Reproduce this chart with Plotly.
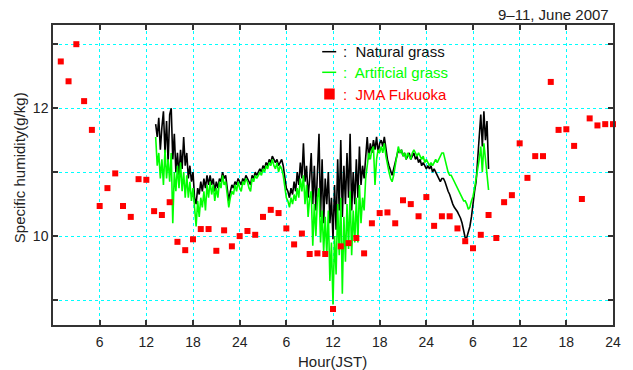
import numpy as np
import plotly.graph_objects as go

# ---- data ----
# JMA Fukuoka hourly specific humidity (g/kg), hours 1..72 from 0 JST 9 June
jma_hours = list(range(1, 73))
jma_values = [
    12.73, 12.42, 13.00, 12.11, 11.66, 10.47, 10.75, 10.98, 10.47, 10.30,
    10.89, 10.88, 10.39, 10.33, 10.53, 9.91, 9.78, 9.95, 10.11, 10.11,
    9.77, 10.09, 9.84, 10.00, 10.08, 10.02, 10.30, 10.41, 10.36, 10.12,
    9.87, 10.04, 9.72, 9.73, 9.72, 8.86, 9.84, 9.89, 9.97, 9.73,
    10.20, 10.36, 10.37, 10.20, 10.56, 10.50, 10.31, 10.61, 10.16, 10.31,
    10.31, 10.12, 9.92, 9.81, 10.02, 10.33, 9.97, 10.53, 10.64, 11.45,
    10.91, 11.25, 11.25, 12.41, 11.66, 11.67, 11.41, 10.58, 11.84, 11.73,
    11.75, 11.75,
]

# Tower records, sampled every 0.2 h from 13.2 h to 56.0 h
rec_start, rec_step, rec_count = 13.2, 0.2, 215
rec_hours = np.round(rec_start + rec_step * np.arange(rec_count), 2)

natural_grass = [
    11.75, 11.55, 11.85, 11.35, 11.70,  11.95, 11.30, 11.80, 11.15, 11.90,
    12.00, 11.20, 11.60, 11.00, 11.30,  10.95, 11.35, 11.05, 11.55, 11.10,
    11.30, 10.90, 11.10, 10.85, 11.00,  10.60, 10.50, 10.75, 10.65, 10.85,
    10.70, 10.90, 10.75, 10.95, 10.80,  10.95, 10.80, 10.90, 10.70, 10.85,
    10.75, 10.90, 10.85, 11.00, 10.90,  10.95, 10.75, 10.55, 10.70, 10.80,
    10.75, 10.85, 10.80, 10.90, 10.85,  10.80, 10.90, 10.85, 10.95, 10.90,
    10.85, 10.80, 10.95, 10.90, 11.00,  10.95, 11.00, 11.05, 11.00, 11.10,
    11.05, 11.15, 11.10, 11.20, 11.15,  11.25, 11.20, 11.15, 11.20, 11.10,
    11.15, 11.20, 11.10, 10.95, 10.75,  10.70, 10.60, 10.75, 10.65, 10.85,
    10.70, 11.00, 10.80, 11.15, 10.90,  11.45, 10.85, 11.10, 10.60, 10.90,
    11.30, 10.50, 11.10, 10.40, 11.00,  11.60, 10.30, 11.20, 10.20, 10.90,
    10.50, 11.00, 10.20, 10.60, 9.95,   10.80, 10.10, 11.20, 10.40, 11.50,
    10.30, 11.10, 10.50, 11.30, 10.60,  11.60, 10.40, 11.00, 10.50, 11.20,
    10.60, 11.40, 10.80, 11.10, 10.90,  11.30, 11.55, 11.20, 11.45, 11.30,
    11.50, 11.35, 11.55, 11.30, 11.45,  11.50, 11.40, 11.55, 11.35, 11.20,
    11.10, 11.00, 10.95, 11.05, 11.15,  11.25, 11.35, 11.30, 11.35, 11.25,
    11.30, 11.20, 11.25, 11.30, 11.20,  11.25, 11.30, 11.20, 11.25, 11.15,
    11.20, 11.10, 11.15, 11.10, 11.05,  11.10, 11.05, 11.10, 11.00, 11.05,
    11.00, 10.95, 10.90, 10.85, 10.90,  10.90, 10.85, 10.75, 10.70, 10.65,
    10.57, 10.50, 10.45, 10.42, 10.38,  10.33, 10.28, 10.20, 10.10, 9.97,
    9.98, 10.05, 10.15, 10.30, 10.52,   10.70, 10.85, 11.20, 11.60, 11.90,
    11.40, 11.95, 11.50, 11.80, 11.05,
]

artificial_grass = [
    11.55, 11.10, 11.30, 10.90, 11.20,  10.80, 11.35, 10.90, 11.20, 10.85,
    11.30, 10.20, 11.00, 10.70, 11.10,  10.75, 11.15, 10.70, 11.00, 10.60,
    10.95, 10.60, 10.85, 10.55, 10.75,  10.40, 10.15, 10.55, 10.30, 10.60,
    10.45, 10.70, 10.40, 10.80, 10.60,  10.85, 10.65, 10.80, 10.55, 10.75,
    10.60, 10.85, 10.75, 10.95, 10.80,  10.85, 10.60, 10.45, 10.60, 10.70,
    10.65, 10.80, 10.70, 10.85, 10.75,  10.70, 10.85, 10.80, 10.90, 10.85,
    10.75, 10.70, 10.90, 10.85, 10.95,  10.90, 10.95, 11.00, 10.95, 11.05,
    11.00, 11.10, 11.05, 11.15, 11.10,  11.20, 11.10, 11.05, 11.15, 11.00,
    11.10, 11.05, 10.95, 10.75, 10.60,  10.55, 10.45, 10.60, 10.50, 10.65,
    10.55, 10.75, 10.60, 10.90, 10.70,  10.95, 10.50, 10.80, 10.30, 10.60,
    10.70, 9.85, 10.50, 10.00, 10.60,   10.75, 9.90, 10.40, 9.75, 10.30,
    9.70, 10.40, 9.30, 9.90, 8.93,      10.00, 9.40, 10.50, 9.70, 10.60,
    9.10, 10.30, 9.60, 10.50, 9.80,     10.70, 9.70, 10.40, 9.90, 10.60,
    9.90, 10.80, 10.20, 10.60, 10.40,   10.90, 11.10, 11.30, 11.20, 11.35,
    11.40, 10.80, 11.20, 11.35, 11.30,  11.40, 11.30, 11.45, 11.25, 11.10,
    11.00, 10.90, 10.85, 10.95, 11.10,  11.30, 11.40, 11.30, 11.35, 11.25,
    11.30, 11.20, 11.30, 11.25, 11.20,  11.30, 11.35, 11.30, 11.25, 11.30,
    11.25, 11.20, 11.25, 11.15, 11.20,  11.15, 11.10, 11.15, 11.10, 11.15,
    11.20, 11.15, 11.20, 11.25, 11.30,  11.30, 11.20, 11.10, 11.00, 10.95,
    10.95, 10.90, 10.85, 10.80, 10.75,  10.70, 10.65, 10.60, 10.55, 10.55,
    10.50, 10.42, 10.45, 10.55, 10.62,  10.75, 10.90, 11.00, 11.20, 11.40,
    11.00, 11.45, 11.20, 10.95, 10.72,
]

x_tickvals = [6, 12, 18, 24, 30, 36, 42, 48, 54, 60, 66, 72]
x_ticktext = ["6", "12", "18", "24", "6", "12", "18", "24", "6", "12", "18", "24"]
y_tickvals = [9, 10, 11, 12, 13]
y_ticktext = ["", "10", "", "12", ""]

legend_names = ["Natural grass", "Artificial grass", "JMA Fukuoka"]
colors = ["#000000", "#00ff00", "#ff0000"]

FONT = "Liberation Sans, Arial, Helvetica, sans-serif"

fig = go.Figure()
fig.add_trace(go.Scatter(x=rec_hours, y=natural_grass, mode="lines",
                         line=dict(color=colors[0], width=1.6), showlegend=False))
fig.add_trace(go.Scatter(x=rec_hours, y=artificial_grass, mode="lines",
                         line=dict(color=colors[1], width=1.6), showlegend=False))
fig.add_trace(go.Scatter(x=jma_hours, y=jma_values, mode="markers",
                         marker=dict(symbol="square", size=6, color=colors[2], line=dict(width=0)),
                         cliponaxis=False, showlegend=False))

axis_common = dict(
    showline=True, linecolor="#333333", linewidth=1.5, mirror="ticks",
    ticks="inside", ticklen=5, tickwidth=1.5, tickcolor="#333333",
    showgrid=True, gridcolor="#00ffff", griddash="dot", gridwidth=1,
    zeroline=False, tickfont=dict(family=FONT, size=14, color="#222222"),
)

fig.update_xaxes(range=[0, 72], tickmode="array", tickvals=x_tickvals,
                 ticktext=x_ticktext, ticklabelstandoff=3, **axis_common)
fig.update_yaxes(range=[8.61, 13.30], tickmode="array", tickvals=y_tickvals,
                 ticktext=y_ticktext, **axis_common)

# legend drawn manually (coloured text)
L, W, T, H = 53.3, 560.0, 25.0, 300.0
def px(xp):
    return (xp - L) / W
def py(yp):
    return (T + H - yp) / H

row_y = [51.7, 72.3, 94.3]
shapes = []
for i in range(2):
    shapes.append(dict(type="line", xref="paper", yref="paper",
                       x0=px(322.5), x1=px(336.5), y0=py(row_y[i]), y1=py(row_y[i]),
                       line=dict(color=colors[i], width=1.5)))
shapes.append(dict(type="rect", xref="paper", yref="paper",
                   x0=px(324.5), x1=px(335), y0=py(99.5), y1=py(88.5),
                   fillcolor=colors[2], line=dict(width=0)))

annotations = []
for i, name in enumerate(legend_names):
    annotations.append(dict(xref="paper", yref="paper", x=px(341), y=py(row_y[i]),
                            xanchor="left", yanchor="middle", showarrow=False,
                            text=":  " + name,
                            font=dict(family=FONT, size=15, color=colors[i] if i else "#111111")))
annotations.append(dict(xref="paper", yref="paper", x=px(611), y=py(14),
                        xanchor="right", yanchor="middle", showarrow=False,
                        text="9–11, June 2007", font=dict(family=FONT, size=15, color="#222222")))
annotations.append(dict(xref="paper", yref="paper", x=px(333), y=py(361),
                        xanchor="center", yanchor="middle", showarrow=False,
                        text="Hour(JST)", font=dict(family=FONT, size=15, color="#222222")))
annotations.append(dict(xref="paper", yref="paper", x=px(20), y=py(167.5),
                        xanchor="center", yanchor="middle", showarrow=False, textangle=-90,
                        text="Specific humidity(g/kg)", font=dict(family=FONT, size=15, color="#222222")))

fig.update_layout(
    width=633, height=370,
    margin=dict(l=53, r=20, t=25, b=45),
    plot_bgcolor="white", paper_bgcolor="white",
    shapes=shapes, annotations=annotations,
    showlegend=False,
)

fig.write_html("out.html")
